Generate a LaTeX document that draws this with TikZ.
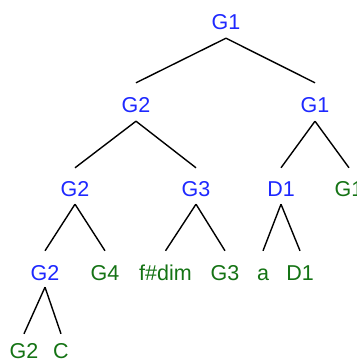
\documentclass[tikz,border=0pt]{standalone}
\usepackage{fontspec}
\setmainfont{Liberation Sans}
\definecolor{tblue}{RGB}{30,40,255}
\definecolor{tgreen}{RGB}{20,115,20}
\begin{document}
\begin{tikzpicture}[x=1pt,y=-1pt,
  lbl/.style={inner sep=0pt,anchor=base,font=\fontsize{21.5}{24}\selectfont,text height=16pt,text depth=0pt},
  bl/.style={lbl,text=tblue},
  gr/.style={lbl,text=tgreen},
  br/.style={line width=1.4pt,black}]
\useasboundingbox (0,0) rectangle (356,364);
\clip (0,0) rectangle (356,364);
\fill[white] (0,0) rectangle (356,364);
% level 1
\node[bl] (r) at (226,29) {G1};
% level 2
\node[bl] (a) at (136,112) {G2};
\node[bl] (b) at (315,112) {G1};
% level 3
\node[bl] (aa) at (75,196) {G2};
\node[bl] (ab) at (196,196) {G3};
\node[bl] (ba) at (281,196) {D1};
\node[gr] (bb) at (349,196) {G1};
% level 4
\node[bl] (aaa) at (45,280) {G2};
\node[gr] (aab) at (105,280) {G4};
\node[gr] (aba) at (165.5,280) {f\#dim};
\node[gr] (abb) at (225,280) {G3};
\node[gr] (baa) at (263,280) {a};
\node[gr] (bab) at (300,280) {D1};
% level 5
\node[gr] (aaaa) at (24,358) {G2};
\node[gr] (aaab) at (61,358) {C};
% edges
\draw[br] ([yshift=-9pt]r.south) -- ([yshift=13pt]a.north);
\draw[br] ([yshift=-9pt]r.south) -- ([yshift=13pt]b.north);
\draw[br] ([yshift=-9pt]a.south) -- ([yshift=12pt]aa.north);
\draw[br] ([yshift=-9pt]a.south) -- ([yshift=12pt]ab.north);
\draw[br] ([yshift=-9pt]b.south) -- ([yshift=12pt]ba.north);
\draw[br] ([yshift=-9pt]b.south) -- ([yshift=12pt]bb.north);
\draw[br] ([yshift=-8pt]aa.south) -- ([yshift=13pt]aaa.north);
\draw[br] ([yshift=-8pt]aa.south) -- ([yshift=13pt]aab.north);
\draw[br] ([yshift=-8pt]ab.south) -- ([yshift=13pt]aba.north);
\draw[br] ([yshift=-8pt]ab.south) -- ([yshift=13pt]abb.north);
\draw[br] ([yshift=-8pt]ba.south) -- ([yshift=13pt]baa.north);
\draw[br] ([yshift=-8pt]ba.south) -- ([yshift=13pt]bab.north);
\draw[br] ([yshift=-7pt]aaa.south) -- ([yshift=8pt]aaaa.north);
\draw[br] ([yshift=-7pt]aaa.south) -- ([yshift=8pt]aaab.north);
\end{tikzpicture}
\end{document}
